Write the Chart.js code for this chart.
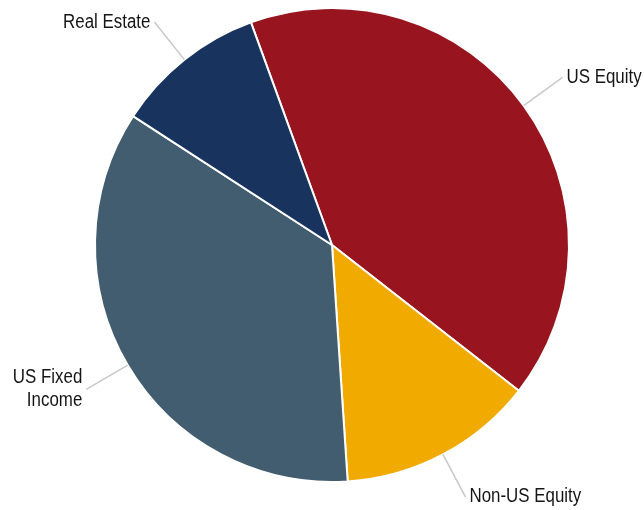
<!DOCTYPE html>
<html>
<head>
<meta charset="utf-8">
<script src="https://cdn.jsdelivr.net/npm/chart.js@4"></script>
<style>
  html, body { margin: 0; padding: 0; background: #fff; }
  #wrap { width: 644px; height: 510px; }
</style>
</head>
<body>
<div id="wrap"><canvas id="allocChart" width="644" height="510"></canvas></div>
<script>
// asset allocation, % of portfolio
const categories = ['US Equity', 'Non-US Equity', 'US Fixed Income', 'Real Estate'];
const labelLines = [['US Equity'], ['Non-US Equity'], ['US Fixed', 'Income'], ['Real Estate']];
const weights = [41.1, 13.4, 35.2, 10.3];
const sliceColors = ['#98141E', '#F0AA00', '#425D6F', '#17335E'];

const FONT = '20px "Liberation Sans", Arial, sans-serif';
const NARROW = 0.845; // squeeze glyphs horizontally, narrow-face look

// leader lines + outside labels
const outsideLabels = {
    id: 'outsideLabels',
    afterDraw(chart) {
        const ctx = chart.ctx;
        const arcs = chart.getDatasetMeta(0).data;
        ctx.save();
        ctx.font = FONT;
        ctx.textBaseline = 'middle';
        arcs.forEach((arc, i) => {
            const mid = (arc.startAngle + arc.endAngle) / 2;
            const r0 = arc.outerRadius;
            const r1 = r0 + 48;
            const cos = Math.cos(mid), sin = Math.sin(mid);
            const x0 = arc.x + cos * r0, y0 = arc.y + sin * r0;
            const x1 = arc.x + cos * r1, y1 = arc.y + sin * r1;

            ctx.strokeStyle = '#c8c8c8';
            ctx.lineWidth = 1.5;
            ctx.beginPath();
            ctx.moveTo(x0, y0);
            ctx.lineTo(x1, y1);
            ctx.stroke();

            const right = cos >= 0;
            ctx.textAlign = right ? 'left' : 'right';
            ctx.fillStyle = '#151515';
            const lines = labelLines[i];
            const lh = 23;
            const top = y1 - (lines.length - 1) * lh / 2;
            const tx = x1 + (right ? 4 : -4);
            lines.forEach((t, k) => {
                ctx.save();
                ctx.translate(tx, top + k * lh);
                ctx.scale(NARROW, 1);
                ctx.fillText(t, 0, 0);
                ctx.restore();
            });
        });
        ctx.restore();
    }
};

new Chart(document.getElementById('allocChart'), {
    type: 'pie',
    data: {
        labels: categories,
        datasets: [{
            data: weights,
            backgroundColor: sliceColors,
            borderColor: '#ffffff',
            borderWidth: 2
        }]
    },
    options: {
        responsive: false,
        animation: false,
        rotation: -20,
        layout: { padding: { left: 94, right: 74, top: 7, bottom: 27 } },
        plugins: {
            legend: { display: false },
            tooltip: { enabled: false }
        }
    },
    plugins: [outsideLabels]
});
</script>
</body>
</html>
